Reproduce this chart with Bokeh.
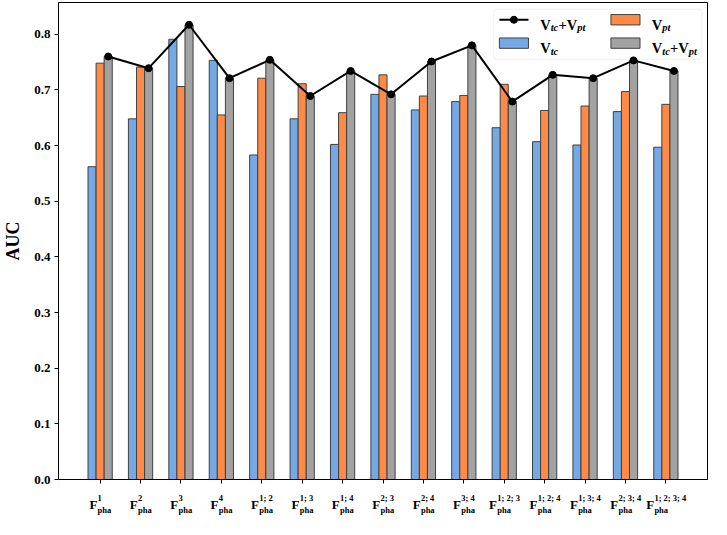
import numpy as np
from bokeh.plotting import figure
from bokeh.layouts import column
from bokeh.models import (FixedTicker, Label, Range1d, BoxAnnotation, NumeralTickFormatter,
                          ColumnDataSource)
from bokeh.embed import file_html
from bokeh.resources import INLINE
from bokeh.core.properties import value

# ---- data ----
group_sup = ["1", "2", "3", "4", "1; 2", "1; 3", "1; 4", "2; 3", "2; 4", "3; 4",
             "1; 2; 3", "1; 2; 4", "1; 3; 4", "2; 3; 4", "1; 2; 3; 4"]
group_sub = ["pha"] * len(group_sup)
v_tc = [0.562, 0.648, 0.791, 0.753, 0.583, 0.648, 0.602, 0.692, 0.664, 0.679,
        0.632, 0.607, 0.601, 0.661, 0.597]
v_pt = [0.748, 0.741, 0.706, 0.655, 0.721, 0.711, 0.659, 0.727, 0.689, 0.690,
        0.710, 0.663, 0.671, 0.697, 0.674]
v_both = [0.760, 0.739, 0.817, 0.721, 0.754, 0.689, 0.734, 0.692, 0.751, 0.780,
          0.679, 0.727, 0.721, 0.753, 0.734]
y_ticks = [0.0, 0.1, 0.2, 0.3, 0.4, 0.5, 0.6, 0.7, 0.8]

FONT = "Liberation Serif"
C_BLUE = "#74a9e6"
C_ORANGE = "#fd8b47"
C_GRAY = "#a2a2a2"
C_EDGE = "#404040"

n = len(group_sup)
x = np.arange(n)
w = 0.2
xr = Range1d(-1.03, 15.03)

W_TOTAL = 711
H_TOP = 485
H_BOT = 34
LEFT = 54
RIGHT = 4

p = figure(width=W_TOTAL, height=H_TOP, x_range=xr, y_range=Range1d(0, 0.857),
           output_backend="svg", toolbar_location=None, min_border=0,
           min_border_left=LEFT, min_border_right=RIGHT, min_border_top=2, min_border_bottom=6)
p.background_fill_color = "white"
p.border_fill_color = "white"
p.outline_line_color = "black"
p.outline_line_width = 1
p.xgrid.visible = False
p.ygrid.visible = False

# legend frame (drawn beneath glyphs)
p.add_layout(BoxAnnotation(left=9.74, right=14.89, top=0.845, bottom=0.755,
                           fill_color="white", fill_alpha=0.85, line_color="#cccccc",
                           line_width=1, border_radius=3, level="underlay"))

p.vbar(x=x - w, top=v_tc, width=w, fill_color=C_BLUE, line_color=C_EDGE, line_width=1)
p.vbar(x=x, top=v_pt, width=w, fill_color=C_ORANGE, line_color=C_EDGE, line_width=1)
p.vbar(x=x + w, top=v_both, width=w, fill_color=C_GRAY, line_color=C_EDGE, line_width=1)
p.line(x + w, v_both, line_color="black", line_width=2)
p.scatter(x + w, v_both, size=7, fill_color="black", line_color="black")

# ---- axes ----
for ax in (p.xaxis, p.yaxis):
    ax.axis_line_color = "black"
    ax.major_tick_line_color = "black"
    ax.major_tick_in = 0
    ax.major_tick_out = 4
    ax.minor_tick_line_color = None
    ax.major_label_text_font = FONT
    ax.major_label_text_font_style = "bold"
    ax.major_label_text_font_size = "13px"
    ax.major_label_text_color = "black"

p.xaxis.ticker = FixedTicker(ticks=list(x))
p.xaxis.major_label_overrides = {int(i): "" for i in x}
p.xaxis.major_label_text_font_size = "1px"
p.xaxis.major_label_standoff = 0

p.yaxis.ticker = FixedTicker(ticks=y_ticks)
p.yaxis.formatter = NumeralTickFormatter(format="0.0")
p.yaxis.major_label_standoff = 4
p.yaxis.axis_label = "AUC"
p.yaxis.axis_label_text_font = FONT
p.yaxis.axis_label_text_font_style = "bold"
p.yaxis.axis_label_text_font_size = "18px"
p.yaxis.axis_label_text_color = "black"
p.yaxis.axis_label_standoff = 8

# ---- legend ----
row1, row2 = 0.826, 0.784
col1_h = (9.88, 10.60)
col2_h = (12.64, 13.36)
col1_t, col2_t = 10.89, 13.65
hh = 0.0093

p.line([col1_h[0], col1_h[1]], [row1, row1], line_color="black", line_width=2)
p.scatter([(col1_h[0] + col1_h[1]) / 2], [row1], size=7, fill_color="black", line_color="black")
p.quad(left=[col1_h[0]], right=[col1_h[1]], top=[row2 + hh], bottom=[row2 - hh],
       fill_color=C_BLUE, line_color=C_EDGE, line_width=1)
p.quad(left=[col2_h[0]], right=[col2_h[1]], top=[row1 + hh], bottom=[row1 - hh],
       fill_color=C_ORANGE, line_color=C_EDGE, line_width=1)
p.quad(left=[col2_h[0]], right=[col2_h[1]], top=[row2 + hh], bottom=[row2 - hh],
       fill_color=C_GRAY, line_color=C_EDGE, line_width=1)

def rich(xd, yd, parts):
    off = 0.0
    for txt, big, wd in parts:
        p.add_layout(Label(x=xd, y=yd, x_offset=off, y_offset=(-5 if big else -8),
                           text=txt, text_font=FONT,
                           text_font_style=("bold" if big else "bold italic"),
                           text_font_size=("14.5px" if big else "10.5px"),
                           text_color="black", text_baseline="alphabetic", text_align="left"))
        off += wd

both = [("V", True, 10.5), ("tc", False, 7.8), ("+V", True, 18.8), ("pt", False, 8.2)]
rich(col1_t, row1, both)
rich(col1_t, row2, [("V", True, 10.5), ("tc", False, 7.8)])
rich(col2_t, row1, [("V", True, 10.5), ("pt", False, 8.2)])
rich(col2_t, row2, both)

# ---- x tick labels F^{sup}_{pha}, in a strip below the plot (y in pixels, downwards) ----
F_W = 8.1
SUB_W = 13.7
def w_sup(s):
    return sum(4.25 if ch.isdigit() else (2.8 if ch == ";" else 2.1) for ch in s)

f_off, s_off = [], []
for s in group_sup:
    Wl = F_W + max(w_sup(s), SUB_W)
    fr = -Wl / 2 + F_W
    f_off.append(fr)
    s_off.append(fr + 0.3)

lab = ColumnDataSource(dict(x=x, f=["F"] * n, sup=group_sup, sub=group_sub, fo=f_off, so=s_off))

p2 = figure(width=W_TOTAL, height=H_BOT, x_range=xr, y_range=Range1d(-H_BOT, 0),
            output_backend="svg", toolbar_location=None, min_border=0,
            min_border_left=LEFT, min_border_right=RIGHT, min_border_top=0, min_border_bottom=0,
            x_axis_location=None, y_axis_location=None)
p2.outline_line_color = None
p2.xgrid.visible = False
p2.ygrid.visible = False
p2.background_fill_color = "white"
p2.border_fill_color = "white"

tcommon = dict(source=lab, text_font=value(FONT), text_font_style="bold",
               text_color="black", text_baseline="alphabetic")
p2.text(x="x", y=-19, text="f", x_offset="fo", text_align="right",
        text_font_size="13px", **tcommon)
p2.text(x="x", y=-12, text="sup", x_offset="so", text_align="left",
        text_font_size="8.5px", **tcommon)
p2.text(x="x", y=-24, text="sub", x_offset="so", text_align="left",
        text_font_size="8.5px", **tcommon)

layout = column(p, p2, spacing=0)
open("out.html", "w").write(file_html(layout, INLINE))
